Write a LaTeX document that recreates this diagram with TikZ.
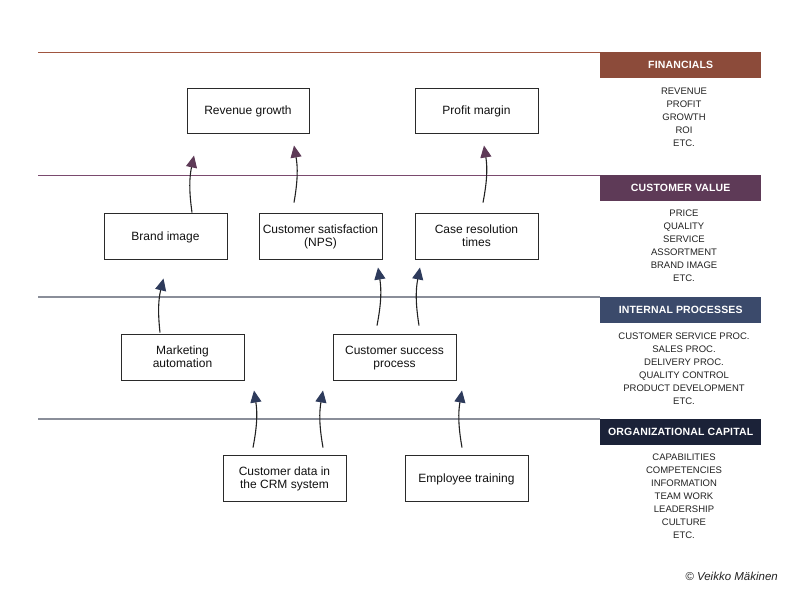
\documentclass[tikz,border=0pt]{standalone}
\usepackage{fontspec}
\setmainfont{Liberation Sans}
\newfontfamily\hdrfont[LetterSpace=1.5]{Liberation Sans}
\usetikzlibrary{arrows.meta,calc}
\definecolor{fin}{HTML}{8C4B3A}
\definecolor{cv}{HTML}{5E3A57}
\definecolor{ip}{HTML}{3B4A6B}
\definecolor{oc}{HTML}{1B2238}
\definecolor{finline}{HTML}{A0553F}
\definecolor{cvline}{HTML}{7A4A6E}
\definecolor{greyline}{HTML}{8A8E99}
\definecolor{boxline}{HTML}{2A2A2A}
\definecolor{txt}{HTML}{111111}
\definecolor{listtxt}{HTML}{222222}
\definecolor{arrowline}{HTML}{222222}
\definecolor{navytip}{HTML}{2E3B5C}
\begin{document}
\begin{tikzpicture}[x=1pt,y=-1pt,
  box/.style={draw=boxline,line width=1pt,minimum width=123pt,minimum height=46pt,
    inner sep=2pt,align=center,text depth=0pt,font=\fontsize{12}{13}\selectfont,text=txt},
  header/.style={anchor=north west,minimum width=161pt,minimum height=26pt,inner sep=0pt,
    text=white,font=\hdrfont\bfseries\fontsize{10.5}{12}\selectfont},
  listtext/.style={anchor=north,align=center,inner sep=0pt,text=listtxt,
    font=\fontsize{9.5}{13}\selectfont},
  rulethin/.style={line width=1pt},
  rulethick/.style={line width=1.6pt,draw=greyline},
  link/.style={draw=arrowline,line width=1.1pt},
  tipcv/.style={-{Triangle[length=12pt,width=11pt,color=cv]}},
  tipnavy/.style={-{Triangle[length=12pt,width=11pt,color=navytip]}}
]
\useasboundingbox[fill=white] (0,0) rectangle (800,600);

% header bars
\node[header,fill=fin] (hfin) at (600,52) {FINANCIALS};
\node[header,fill=cv]  (hcv)  at (600,175) {CUSTOMER VALUE};
\node[header,fill=ip]  (hip)  at (600,297) {INTERNAL PROCESSES};
\node[header,fill=oc]  (hoc)  at (600,419) {ORGANIZATIONAL CAPITAL};

% rules
\coordinate (lfin) at (38,52);
\coordinate (lcv)  at (38,175);
\coordinate (lip)  at (38,297);
\coordinate (loc)  at (38,419);
\draw[rulethin,draw=finline] (lfin) -- (hfin.north west);
\draw[rulethin,draw=cvline]  (lcv)  -- (hcv.north west);
\draw[rulethick] (lip) -- (hip.north west);
\draw[rulethick] (loc) -- (hoc.north west);

% lists
\node[listtext] (lsfin) at (684,87.5) {REVENUE\\PROFIT\\GROWTH\\ROI\\ETC.};
\node[listtext] (lscv) at (684,210) {PRICE\\QUALITY\\SERVICE\\ASSORTMENT\\BRAND IMAGE\\ETC.};
\node[listtext] (lsip) at (684,332.5) {CUSTOMER SERVICE PROC.\\SALES PROC.\\DELIVERY PROC.\\QUALITY CONTROL\\PRODUCT DEVELOPMENT\\ETC.};
\node[listtext] (lsoc) at (684,454) {CAPABILITIES\\COMPETENCIES\\INFORMATION\\TEAM WORK\\LEADERSHIP\\CULTURE\\ETC.};

% boxes
\node[box,minimum width=122pt,minimum height=45pt] (rev) at (248,110.5) {Revenue growth};
\node[box,minimum height=45pt] (profit) at (476.5,110.5) {Profit margin};
\node[box] (brand) at (165.5,236) {Brand image};
\node[box] (csat) at (320.5,236) {Customer satisfaction\\(NPS)};
\node[box] (case) at (476.5,236) {Case resolution\\times};
\node[box] (mkt) at (182.5,357) {Marketing\\automation};
\node[box] (csp) at (394.5,357) {Customer success\\process};
\node[box] (crm) at (284.5,478) {Customer data in\\the CRM system};
\node[box] (emp) at (466.5,478) {Employee training};

% arrows
\draw[link,tipcv] ($(brand.north)+(26.5,0)$) to[bend left=10] ($(rev.south)+(-54,22)$);
\draw[link,tipcv] ($(csat.north)+(-26.5,-10)$) to[bend right=10] ($(rev.south)+(46,12)$);
\draw[link,tipcv] ($(case.north)+(6.5,-10)$) to[bend right=10] ($(profit.south)+(7.5,12)$);
\draw[link,tipnavy] ($(mkt.north)+(-22.5,-1)$) to[bend left=10] ($(brand.south)+(-2,19)$);
\draw[link,tipnavy] ($(csp.north)+(-17.5,-8)$) to[bend right=10] ($(csat.south)+(57.5,8)$);
\draw[link,tipnavy] ($(csp.north)+(24.5,-8)$) to[bend left=10] ($(case.south)+(-56.5,8)$);
\draw[link,tipnavy] ($(crm.north)+(-31.5,-7)$) to[bend right=10] ($(mkt.south)+(71.5,10)$);
\draw[link,tipnavy] ($(crm.north)+(38.5,-7)$) to[bend left=10] ($(csp.south)+(-71.5,10)$);
\draw[link,tipnavy] ($(emp.north)+(-4.5,-7)$) to[bend left=10] ($(csp.south)+(67.5,10)$);

% credit
\node[anchor=east,inner sep=0pt,text=listtxt,font=\itshape\fontsize{11.5}{13}\selectfont] (credit) at (778,576) {© Veikko Mäkinen};
\end{tikzpicture}
\end{document}
